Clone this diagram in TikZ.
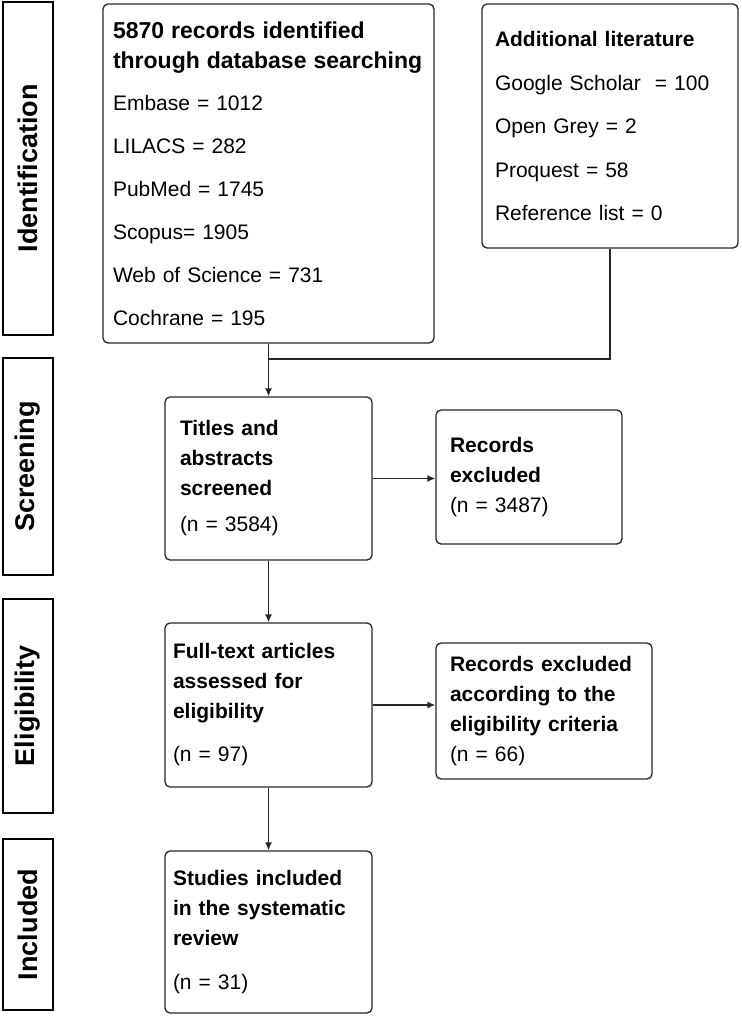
\documentclass[tikz,border=0pt]{standalone}
\usepackage{fontspec}
\setmainfont{Liberation Sans}
\usetikzlibrary{arrows.meta}
\newcommand{\headtext}[1]{{\fontsize{23}{29}\selectfont\bfseries #1}}

\begin{document}
\begin{tikzpicture}[x=1pt,y=-1pt,
  stage/.style={draw=black,line width=2.6pt,minimum height=50pt,inner sep=0pt,rotate=90,
    font=\fontsize{27}{30}\selectfont\bfseries},
  flowbox/.style={draw=black!85,line width=1.3pt,rounded corners=5pt,align=left,
    inner xsep=12pt,inner ysep=0pt,font=\fontsize{21}{30}\selectfont},
  flowline/.style={draw=black!85,line width=1.3pt},
  flowarrow/.style={flowline,-{Latex[length=8pt,width=7pt]}}]
\useasboundingbox (0,0) rectangle (742,1018);

% phases on the left
\node[stage,minimum width=333pt] (identstage) at (28,168.5) {Identification};
\node[stage,minimum width=217pt] (screenstage) at (28,466.5) {Screening};
\node[stage,minimum width=214pt] (eligstage) at (28,706) {Eligibility};
\node[stage,minimum width=171pt] (inclstage) at (28,924.5) {Included};

% boxes
\node[flowbox,inner xsep=10pt,text width=311pt,minimum width=331pt,minimum height=339pt] (records) at (268.5,173.5)
  {\headtext{5870 records identified}\\ \headtext{through database searching}\\[12pt]
   Embase = 1012\\[13pt] LILACS = 282\\[13pt] PubMed = 1745\\[13pt] Scopus= 1905\\[13pt]
   Web of Science = 731\\[13pt] Cochrane = 195};
\node[flowbox,inner xsep=13pt,text width=230pt,minimum width=256pt,minimum height=244pt] (additional) at (610,126)
  {\textbf{Additional literature}\\[13.5pt] Google Scholar \ = 100\\[13.5pt] Open Grey = 2\\[13.5pt]
   Proquest = 58\\[13.5pt] Reference list = 0};
\node[flowbox,inner xsep=15pt,text width=177pt,minimum width=207pt,minimum height=163pt] (screened) at (268.5,478.5)
  {\textbf{Titles and}\\ \textbf{abstracts}\\ \textbf{screened}\\[6pt] (n = 3584)};
\node[flowbox,inner xsep=14pt,text width=158pt,minimum width=186pt,minimum height=134pt] (excluded) at (529,477)
  {\textbf{Records}\\ \textbf{excluded}\\ (n = 3487)};
\node[flowbox,inner xsep=8pt,text width=191pt,minimum width=207pt,minimum height=164pt] (fulltext) at (268.5,705)
  {\textbf{Full-text articles}\\ \textbf{assessed for}\\ \textbf{eligibility}\\[13pt] (n = 97)};
\node[flowbox,inner xsep=14pt,text width=188pt,minimum width=216pt,minimum height=136pt] (ineligible) at (544,711)
  {\textbf{Records excluded}\\ \textbf{according to the}\\ \textbf{eligibility criteria}\\ (n = 66)};
\node[flowbox,inner xsep=8pt,text width=191pt,minimum width=207pt,minimum height=162pt] (studies) at (268.5,932)
  {\textbf{Studies included}\\ \textbf{in the systematic}\\ \textbf{review}\\[14pt] (n = 31)};

% connectors
\coordinate (merge) at (268.5,359);
\draw[flowline] (additional.south) |- (merge);
\draw[flowarrow] (records.south) -- (screened.north);
\draw[flowarrow] (screened.east) -- (screened.east -| excluded.west);
\draw[flowarrow] (screened.south) -- (fulltext.north);
\draw[flowarrow] (fulltext.east) -- (fulltext.east -| ineligible.west);
\draw[flowarrow] (fulltext.south) -- (studies.north);
\end{tikzpicture}
\end{document}
